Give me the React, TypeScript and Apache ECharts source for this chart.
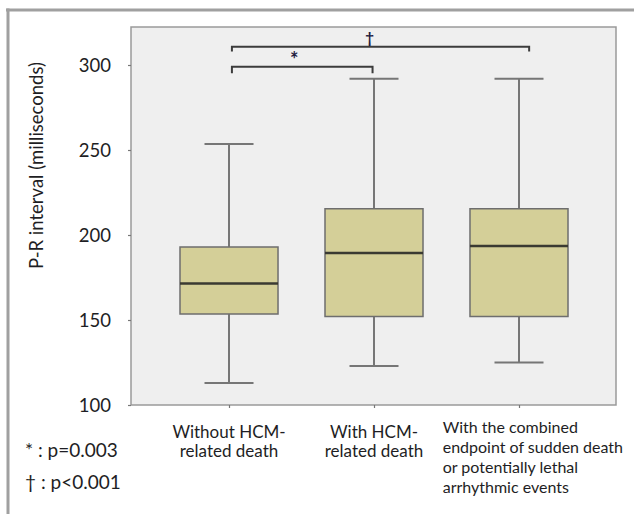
import React, { useEffect, useRef } from 'react';
import * as echarts from 'echarts';

const categories = [
  'Without HCM-\nrelated death',
  'With HCM-\nrelated death',
  'With the combined\nendpoint of sudden death\nor potentially lethal\narrhythmic events',
];
const minValues = [113, 123, 125];
const q1Values = [153.5, 152, 152];
const medianValues = [171.5, 189.5, 193.5];
const q3Values = [193, 215.5, 215.5];
const maxValues = [253.5, 292, 292];
const yTickValues = [100, 150, 200, 250, 300];

const bracketSymbols = ['*', '†'];
const bracketFrom = [0.02, 0.02];
const bracketTo = [0.99, 2.07];
const bracketLevel = [299, 310.8];
const bracketLegEnd = [295.2, 308];
const symbolX = [0.45, 0.97];
const symbolY = [303.8, 316.5];

const footnotes = ['* : p=0.003', '† : p<0.001'];
const yAxisTitle = 'P-R interval (milliseconds)';

const FONT = 'Lato';
const TEXT = '#1e1e24';

export default function App() {
  const ref = useRef<HTMLDivElement>(null);
  useEffect(() => {
    if (!ref.current) return;
    const chart = echarts.init(ref.current, null, { renderer: 'svg' });
    const boxData = categories.map((_, i) => [
      i,
      minValues[i],
      q1Values[i],
      medianValues[i],
      q3Values[i],
      maxValues[i],
    ]);
    const bracketData = bracketSymbols.map((_, i) => [
      bracketFrom[i],
      bracketTo[i],
      bracketLevel[i],
      bracketLegEnd[i],
      symbolX[i],
      symbolY[i],
    ]);
    const option: any = {
      animation: false,
      backgroundColor: '#ffffff',
      textStyle: { fontFamily: FONT },
      grid: {
        left: 131,
        top: 27,
        width: 485,
        height: 378,
        show: true,
        backgroundColor: '#efefef',
        borderColor: '#9a9a9a',
        borderWidth: 1.5,
        containLabel: false,
        outerBoundsMode: 'none',
      },
      xAxis: [
        {
          type: 'value',
          min: -0.676,
          max: 2.669,
          axisLine: { show: false, onZero: false },
          splitLine: { show: false },
          axisTick: {
            show: true,
            customValues: [0, 1, 2],
            length: 3,
            lineStyle: { color: '#777', width: 1.2 },
          },
          axisLabel: {
            customValues: [0, 1],
            formatter: (v: number) => categories[Math.round(v)],
            fontFamily: FONT,
            fontSize: 17,
            lineHeight: 19,
            color: TEXT,
            margin: 17,
          },
        },
        {
          type: 'value',
          min: -0.676,
          max: 2.669,
          position: 'bottom',
          offset: 0,
          axisLine: { show: false, onZero: false },
          splitLine: { show: false },
          axisTick: { show: false },
          axisLabel: {
            customValues: [2],
            formatter: (v: number) =>
              categories[Math.round(v)]
                .split('\n')
                .map((s) => `{b|${s}}`)
                .join('\n'),
            margin: 11.5,
            rich: {
              b: {
                align: 'left',
                padding: [0, 0, 0, 28],
                fontFamily: FONT,
                fontSize: 16,
                lineHeight: 20,
                color: TEXT,
              },
            },
          },
        },
      ],
      yAxis: {
        type: 'value',
        min: 100,
        max: 322.4,
        axisLine: { show: false, onZero: false },
        splitLine: { show: false },
        axisTick: {
          show: true,
          customValues: yTickValues,
          length: 3,
          lineStyle: { color: '#777', width: 1.2 },
        },
        axisLabel: {
          customValues: yTickValues,
          fontFamily: FONT,
          fontSize: 18.5,
          color: TEXT,
          margin: 20,
        },
      },
      graphic: [
        {
          type: 'line',
          shape: { x1: 6, y1: 10, x2: 634, y2: 10 },
          style: { stroke: '#a0a0a0', lineWidth: 3 },
        },
        {
          type: 'line',
          shape: { x1: 8, y1: 8.5, x2: 8, y2: 514 },
          style: { stroke: '#a0a0a0', lineWidth: 3 },
        },
        {
          type: 'text',
          x: 36,
          y: 165.5,
          rotation: Math.PI / 2,
          style: {
            text: yAxisTitle,
            fontFamily: FONT,
            fontSize: 18.5,
            fill: TEXT,
            align: 'center',
            verticalAlign: 'middle',
          },
        },
        ...footnotes.map((t, i) => ({
          type: 'text',
          x: 25,
          y: 449 + i * 32,
          style: {
            text: t,
            fontFamily: FONT,
            fontSize: 19,
            fill: TEXT,
            align: 'left',
            verticalAlign: 'middle',
          },
        })),
      ],
      series: [
        {
          type: 'custom',
          xAxisIndex: 0,
          yAxisIndex: 0,
          data: boxData,
          encode: { x: 0, y: [1, 2, 3, 4, 5] },
          renderItem: (params: any, api: any) => {
            const x = api.value(0);
            const pMin = api.coord([x, api.value(1)]);
            const pQ1 = api.coord([x, api.value(2)]);
            const pMed = api.coord([x, api.value(3)]);
            const pQ3 = api.coord([x, api.value(4)]);
            const pMax = api.coord([x, api.value(5)]);
            const bw = api.size([1, 0])[0] * 0.676;
            const cw = bw / 2;
            const cx = pMin[0];
            const ls = { stroke: '#767676', lineWidth: 2 };
            return {
              type: 'group',
              children: [
                { type: 'line', shape: { x1: cx, y1: pMax[1], x2: cx, y2: pQ3[1] }, style: ls },
                { type: 'line', shape: { x1: cx, y1: pQ1[1], x2: cx, y2: pMin[1] }, style: ls },
                { type: 'line', shape: { x1: cx - cw / 2, y1: pMax[1], x2: cx + cw / 2, y2: pMax[1] }, style: ls },
                { type: 'line', shape: { x1: cx - cw / 2, y1: pMin[1], x2: cx + cw / 2, y2: pMin[1] }, style: ls },
                {
                  type: 'rect',
                  shape: { x: cx - bw / 2, y: pQ3[1], width: bw, height: pQ1[1] - pQ3[1] },
                  style: { fill: '#d4cf98', stroke: '#6e6e6e', lineWidth: 1.5 },
                },
                {
                  type: 'line',
                  shape: { x1: cx - bw / 2, y1: pMed[1], x2: cx + bw / 2, y2: pMed[1] },
                  style: { stroke: '#3a3a32', lineWidth: 2.5 },
                },
              ],
            };
          },
        },
        {
          type: 'custom',
          xAxisIndex: 0,
          yAxisIndex: 0,
          data: bracketData,
          clip: false,
          encode: { x: [0, 1], y: [2, 3] },
          renderItem: (params: any, api: any) => {
            const p1 = api.coord([api.value(0), api.value(2)]);
            const p2 = api.coord([api.value(1), api.value(2)]);
            const legY = api.coord([api.value(0), api.value(3)])[1];
            const ps = api.coord([api.value(4), api.value(5)]);
            return {
              type: 'group',
              children: [
                {
                  type: 'polyline',
                  shape: {
                    points: [
                      [p1[0], legY],
                      [p1[0], p1[1]],
                      [p2[0], p2[1]],
                      [p2[0], legY],
                    ],
                  },
                  style: { stroke: '#3c3c3c', lineWidth: 2, fill: null },
                },
                {
                  type: 'text',
                  x: ps[0],
                  y: ps[1],
                  style: {
                    text: bracketSymbols[params.dataIndex],
                    fontFamily: FONT,
                    fontSize: params.dataIndex === 0 ? 20 : 15,
                    fontWeight: 'bold',
                    fill: '#1e2040',
                    align: 'center',
                    verticalAlign: 'middle',
                  },
                },
              ],
            };
          },
        },
      ],
    };
    chart.setOption(option);
    return () => chart.dispose();
  }, []);
  return (
    <div
      ref={ref}
      style={{ position: 'fixed', left: 0, top: 0, width: 634, height: 514 }}
    />
  );
}
